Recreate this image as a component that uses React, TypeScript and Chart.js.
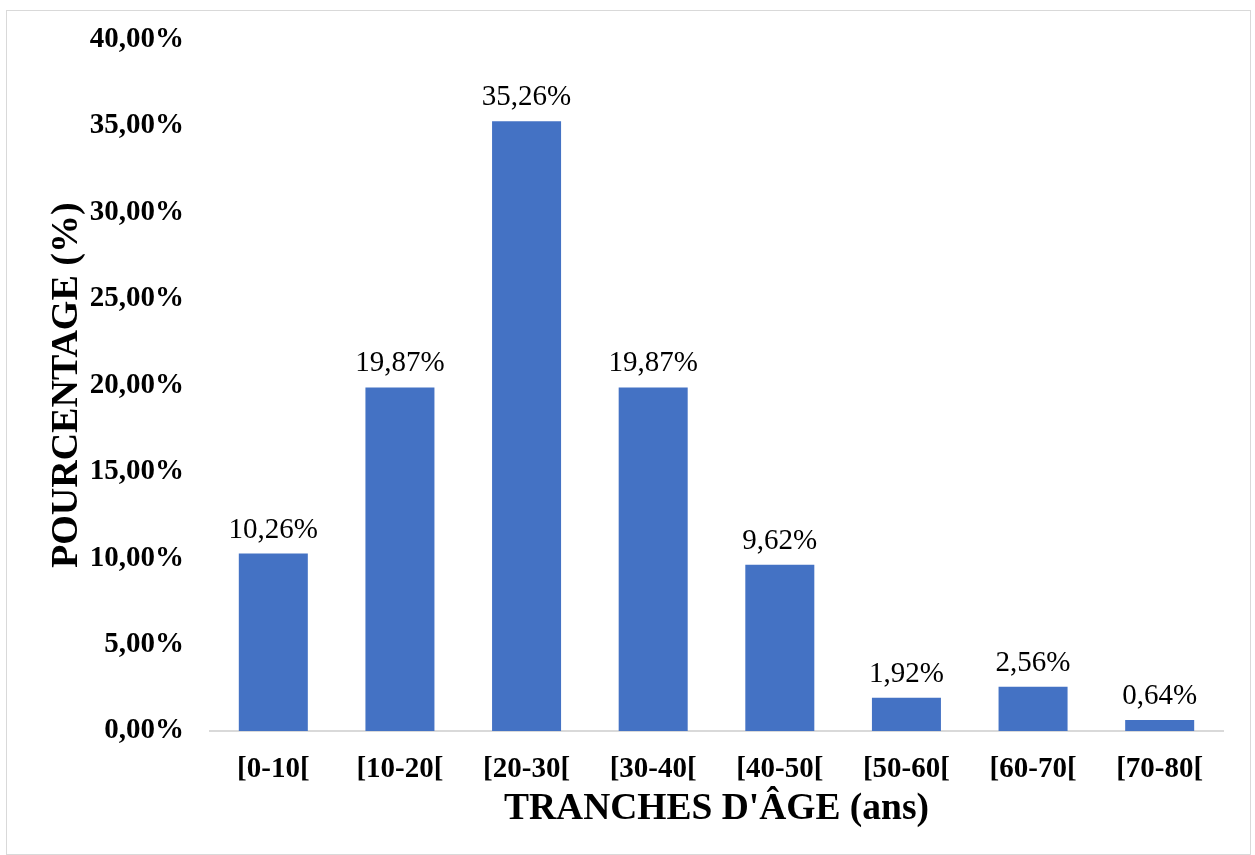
import React, { useEffect, useRef } from "react";
import { Chart, registerables } from "chart.js";

Chart.register(...registerables);

const categories = ["[0-10[", "[10-20[", "[20-30[", "[30-40[", "[40-50[", "[50-60[", "[60-70[", "[70-80["];
const percentages = [10.26, 19.87, 35.26, 19.87, 9.62, 1.92, 2.56, 0.64];
const yTitle = "POURCENTAGE (%)";
const xTitle = "TRANCHES D'ÂGE (ans)";

const FONT = "'Liberation Serif', 'Times New Roman', serif";
const fmt = (v: number) => v.toFixed(2).replace(".", ",") + "%";

const labelPlugin = {
  id: "barLabels",
  afterDatasetsDraw(chart: any) {
    const ctx = chart.ctx;
    const meta = chart.getDatasetMeta(0);
    ctx.save();
    ctx.font = `29px ${FONT}`;
    ctx.fillStyle = "#000";
    ctx.textAlign = "center";
    ctx.textBaseline = "alphabetic";
    meta.data.forEach((bar: any, i: number) => {
      ctx.fillText(fmt(percentages[i]), bar.x, bar.y - 16);
    });
    ctx.restore();
  },
};

export default function App() {
  const ref = useRef<HTMLCanvasElement>(null);
  useEffect(() => {
    if (!ref.current) return;
    const chart = new Chart(ref.current, {
      type: "bar",
      data: {
        labels: categories,
        datasets: [
          {
            data: percentages,
            backgroundColor: "#4472C4",
            categoryPercentage: 1,
            barPercentage: 0.545,
          },
        ],
      },
      options: {
        responsive: false,
        animation: false,
        layout: { padding: { top: 23, right: 27, left: 0, bottom: 0 } },
        plugins: { legend: { display: false }, tooltip: { enabled: false } },
        scales: {
          x: {
            grid: { display: false, drawTicks: false },
            border: { display: true, color: "#d9d9d9", width: 2 },
            ticks: { color: "#000", font: { family: FONT, size: 29, weight: "bold" }, padding: 21, maxRotation: 0 },
            title: { display: true, text: xTitle, color: "#000", font: { family: FONT, size: 37.5, weight: "bold" }, padding: { top: 0, bottom: 22 } },
            afterFit: (s: any) => { s.height = 123; },
          },
          y: {
            min: 0,
            max: 40,
            grid: { display: false, drawTicks: false },
            border: { display: false },
            ticks: { stepSize: 5, color: "#000", font: { family: FONT, size: 29, weight: "bold" }, padding: 26, callback: (v: any) => fmt(Number(v)) },
            title: { display: true, text: yTitle, color: "#000", font: { family: FONT, size: 38, weight: "bold" }, padding: { top: 37, bottom: 0 } },
            afterFit: (s: any) => { s.width = 203; },
          },
        },
      },
      plugins: [labelPlugin],
    });
    return () => chart.destroy();
  }, []);
  return (
    <div style={{ position: "absolute", left: 6, top: 10, width: 1243, height: 843, border: "1px solid #d9d9d9", background: "#fff", overflow: "hidden" }}>
      <canvas ref={ref} width={1243} height={858} style={{ display: "block", marginTop: -15 }} />
    </div>
  );
}
